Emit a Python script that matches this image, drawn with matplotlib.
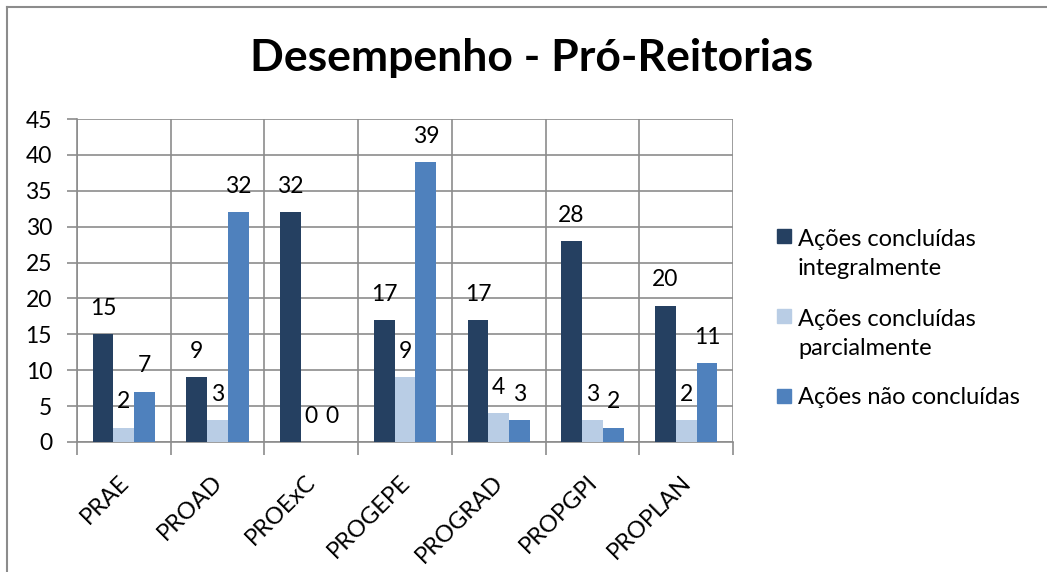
import matplotlib
matplotlib.use("Agg")
import matplotlib.pyplot as plt
from matplotlib.patches import Rectangle
from matplotlib.lines import Line2D
import matplotlib.transforms as mtransforms
import numpy as np

categories = ["PRAE", "PROAD", "PROExC", "PROGEPE", "PROGRAD", "PROPGPI", "PROPLAN"]
series_names = ["Ações concluídas\nintegralmente", "Ações concluídas\nparcialmente", "Ações não concluídas"]
integral = [15, 9, 32, 17, 17, 28, 19]
parcial = [2, 3, 0, 9, 4, 3, 3]
nao = [7, 32, 0, 39, 3, 2, 11]
integral_labels = ["15", "9", "32", "17", "17", "28", "20"]
parcial_labels = ["2", "3", "0", "9", "4", "3", "2"]
nao_labels = ["7", "32", "0", "39", "3", "2", "11"]
yticks = [0, 5, 10, 15, 20, 25, 30, 35, 40, 45]
title = "Desempenho - Pró-Reitorias"

colors = ["#254061", "#B9CDE5", "#4F81BD"]
FONT = "Lato"
plt.rcParams["font.family"] = [FONT, "DejaVu Sans"]

W, H = 1047, 572
fig = plt.figure(figsize=(W / 100, H / 100), dpi=100)

def fx(px):
    return px / W

def fy(py):
    return 1 - py / H

ax = fig.add_axes([fx(77), fy(442), fx(733) - fx(77), fy(119) - fy(442)])

x = np.arange(len(categories))
bw = 0.222
series = [integral, parcial, nao]
labels = [integral_labels, parcial_labels, nao_labels]
for i, (vals, labs) in enumerate(zip(series, labels)):
    pos = x + (i - 1) * bw
    ax.bar(pos, vals, width=bw, color=colors[i], zorder=3)
    for xp, v, lab in zip(pos, vals, labs):
        ax.annotate(lab, (xp, v), xytext=(0, 11), textcoords="offset points",
                    ha="center", va="bottom", fontsize=16.5, zorder=4)

gc = "#8C8C8C"
ax.set_xlim(-0.5, len(categories) - 0.5)
ax.set_ylim(0, 45)
ax.set_yticks(yticks)
ax.set_yticklabels([str(t) for t in yticks], fontsize=16.5)
ax.yaxis.grid(True, color=gc, linewidth=1.2, zorder=0)
ax.set_axisbelow(True)

bounds = np.arange(len(categories) + 1) - 0.5
for b in bounds:
    ax.axvline(b, color=gc, linewidth=1.2, zorder=0)
ax.set_xticks(bounds)
ax.set_xticklabels([])
ax.set_xticks(x, minor=True)
ax.set_xticklabels(categories, minor=True, rotation=45, ha="right",
                   rotation_mode="anchor", fontsize=17)
ax.tick_params(axis="x", which="minor", length=0, pad=21)
ax.tick_params(axis="x", which="major", length=9, color=gc, width=1.2)
ax.tick_params(axis="y", length=7, color=gc, width=1.2, pad=11)
for s in ["top", "right"]:
    ax.spines[s].set_visible(False)
for s in ["left", "bottom"]:
    ax.spines[s].set_color(gc)
    ax.spines[s].set_linewidth(1.2)

offset = mtransforms.ScaledTranslation(-6 / 100, 0, fig.dpi_scale_trans)
for lab in ax.get_xticklabels(minor=True):
    lab.set_transform(lab.get_transform() + offset)

fig.text(0.508, fy(58), title, ha="center", va="center", fontsize=32, fontweight="bold")

# legend (manual, handle aligned with first line)
leg_y = [244, 324, 404]
line_gap = 31
for i, name in enumerate(series_names):
    fig.patches.append(Rectangle((fx(777), fy(leg_y[i] - 1)), fx(14), fy(0) - fy(14),
                                 transform=fig.transFigure, color=colors[i], figure=fig))
    nlines = name.count("\n") + 1
    fig.text(fx(798), fy(leg_y[i] + line_gap * (nlines - 1)), name, ha="left",
             va="baseline", fontsize=17, linespacing=1.47)

# outer border (left and top only visible)
fig.add_artist(Line2D([fx(7), fx(7)], [fy(7), fy(580)], color=gc, lw=1.5, transform=fig.transFigure))
fig.add_artist(Line2D([fx(7), fx(1050)], [fy(7), fy(7)], color=gc, lw=1.5, transform=fig.transFigure))

fig.savefig("out.png", dpi=100, facecolor="white")
